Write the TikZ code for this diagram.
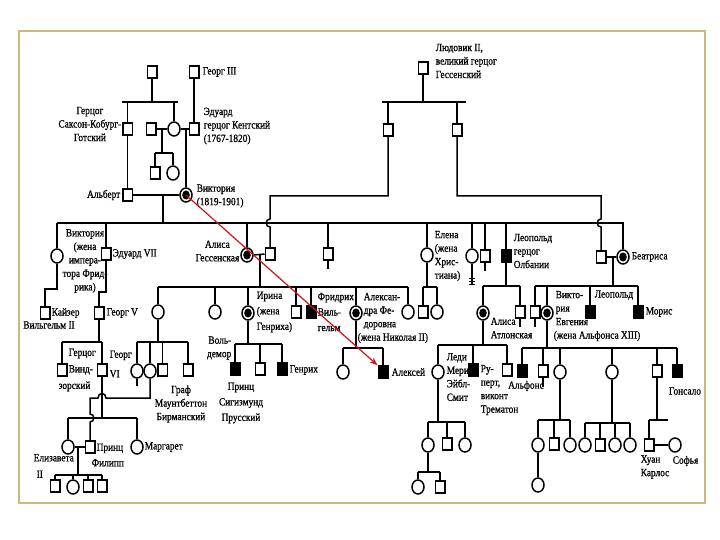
\documentclass[tikz,border=0pt]{standalone}
\usepackage{fontspec}
\setmainfont{Liberation Serif}[FakeStretch=0.85,FakeBold=0.8]
\usetikzlibrary{shapes.geometric,arrows.meta}
\definecolor{framecol}{RGB}{205,185,125}
\definecolor{arrowred}{RGB}{205,20,20}
\begin{document}
\begin{tikzpicture}[x=1pt,y=-1pt,line width=1.5pt,
  sq/.style={rectangle,draw,fill=white,minimum width=9.5pt,minimum height=12pt,inner sep=0pt},
  fsq/.style={sq,fill=black},
  ci/.style={ellipse,draw,fill=white,minimum width=12pt,minimum height=14pt,inner sep=0pt},
  ca/.style={ci,path picture={\fill[black] (path picture bounding box.center) ellipse (3.8pt and 4.6pt);}},
  lb/.style={inner sep=0pt,font=\fontsize{11}{13.5}\selectfont,align=left},
  lc/.style={lb,align=center},
  lr/.style={lb,align=right},
  redarrow/.style={draw=arrowred,line width=1.2pt,-{Stealth[length=8pt,width=6pt]}}]
\useasboundingbox (0,0) rectangle (720,540);
\draw[framecol,line width=1.3pt] (19,31) rectangle (705,503);

% ---------- generation 0/1 (top left) ----------
\node[sq] (g1) at (152,72) {};
\node[sq] (g3) at (194,72) {};
\node[lb,anchor=west] (g3l) at (202,72) {Георг III};
\node[sq] (gz) at (127.5,129) {};
\node[lc,anchor=east] (gzl) at (122,124) {Герцог\\Саксон-Кобург-\\Готский};
\node[sq] (s151) at (151,129) {};
\node[ci] (vsc) at (174,129) {};
\node[sq] (ed) at (194,129) {};
\node[lb,anchor=west] (edl) at (203,126) {Эдуард\\герцог Кентский\\(1767-1820)};
\node[sq] (c1) at (155,173) {};
\node[ci] (c2) at (173,173) {};
\node[sq] (alb) at (127.5,195) {};
\node[lb,anchor=east] (albl) at (121,195) {Альберт};
\node[ca] (vic) at (186,195) {};
\node[lb,anchor=west] (vicl) at (196,196) {Виктория\\(1819-1901)};

% Ludwig II
\node[sq] (lud) at (423,68) {};
\node[lb,anchor=west] (ludl) at (435,61) {Людовик II,\\великий герцог\\Гессенский};
\node[sq] (l1) at (388,130) {};
\node[sq] (l2) at (457,130) {};

% ---------- Victoria's children ----------
\node[ci] (vpr) at (57,256) {};
\node[lc] (vprl) at (85,261) {Виктория\\(жена\\импера-\\тора Фрид-\\рика)};
\node[sq] (e7) at (106,254) {};
\node[lb,anchor=west] (e7l) at (112,254) {Эдуард VII};
\node[ca] (al) at (247,255) {};
\node[lc,anchor=east] (all) at (240,251) {Алиса\\Гессенская};
\node[sq] (lw) at (270,254) {};
\node[sq] (alf) at (328,254) {};
\node[ci] (hel) at (427,255) {};
\node[lb,anchor=west] (hell) at (434,256) {Елена\\(жена\\Хрис-\\тиана)};
\node[ci] (lou) at (472,256) {};
\node[sq] (art) at (485,256) {};
\node[fsq] (leo) at (506,256) {};
\node[lb,anchor=west] (leol) at (513,251) {Леопольд\\герцог\\Олбании};
\node[sq] (hb) at (601,257) {};
\node[ca] (bea) at (623,257) {};
\node[lb,anchor=west] (beal) at (631,257) {Беатриса};

% ---------- grandchildren ----------
\node[sq] (ks) at (45,313) {};
\node[lb,anchor=west] (ksl) at (51,313) {Кайзер};
\node[lc] (ksl2) at (49,325) {Вильгельм II};
\node[sq] (g5) at (99,313) {};
\node[lb,anchor=west] (g5l) at (106,313) {Георг V};

\node[ci] (vh) at (158,312) {};
\node[ci] (el) at (215,312) {};
\node[ca] (ir) at (248,313) {};
\node[lb,anchor=west] (irl) at (256,312) {Ирина\\[2pt](жена\\[2pt]Генриха)};
\node[sq] (er) at (296,312) {};
\node[fsq] (fr) at (311,312) {};
\node[lb,anchor=west] (frl) at (317,312) {Фридрих\\[2pt]Виль-\\[2pt]гельм};
\node[ca] (ax) at (356,313) {};
\node[lb,anchor=west] (axl) at (363,318) {Алексан-\\дра Фе-\\доровна\\\hspace*{-6pt}(жена Николая II)};
\node[ci] (ma) at (408,312) {};

\node[sq] (h1) at (423,312) {};
\node[ci] (h2) at (437,312) {};

\node[ca] (ath) at (483,313) {};
\node[lb,anchor=west] (athl) at (490,328) {Алиса\\Атлонская};
\node[sq] (lc2) at (520,312) {};

\node[sq] (b1) at (535,312) {};
\node[ca] (ve) at (547,313) {};
\node[lb,anchor=west] (vel) at (555,316) {Викто-\\рия\\Евгения\\\hspace*{-2pt}(жена Альфонса XIII)};
\node[fsq] (bl) at (590,312) {};
\node[lb,anchor=west] (bll) at (594,295) {Леопольд};
\node[fsq] (mo) at (638,312) {};
\node[lb,anchor=west] (mol) at (645,312) {Морис};

% ---------- great-grandchildren ----------
\node[sq] (wi) at (62,370) {};
\node[lb,anchor=west] (wil) at (68,370) {Герцог\\[3pt]Винд-\\[3pt]\hspace*{-10pt}зорский};
\node[sq] (g6) at (102,370) {};
\node[lb,anchor=west] (g6l) at (109,364) {Георг\\[6pt]VI};

\node[ci] (v1) at (137,371) {};
\node[ci] (ab) at (150,371) {};
\node[sq] (v3) at (162.5,370) {};
\node[sq] (mb) at (188,370) {};
\node[lc] (mbl) at (181,404) {Граф\\Маунтбеттон\\Бирманский};

\node[fsq] (wa) at (235,369) {};
\node[lr,anchor=east] (wal) at (232,348) {Воль-\\демор};
\node[sq] (si) at (260,369) {};
\node[lc] (sil) at (241,403) {Принц\\[2pt]Сигизмунд\\[2pt]Прусский};
\node[fsq] (he) at (282,369) {};
\node[lb,anchor=west] (hel2) at (289,370) {Генрих};

\node[ci] (ol) at (343,372) {};
\node[fsq] (axi) at (383,372) {};
\node[lb,anchor=west] (axil) at (391,372) {Алексей};

\node[ci] (my) at (438,372) {};
\node[lb,anchor=west] (myl) at (446,377) {Леди\\Мери\\Эйбл-\\Смит};
\node[fsq] (ru) at (473,370) {};
\node[lb,anchor=west] (rul) at (480,390) {Ру-\\перт,\\виконт\\Трематон};
\node[sq] (mr) at (507,370) {};

\node[fsq] (ap) at (522,371) {};
\node[lc] (apl) at (526,386) {Альфонс};
\node[sq] (ja) at (543,371) {};
\node[ci] (bz) at (560,372) {};
\node[ci] (mc) at (612,372) {};
\node[sq] (jn) at (657,371) {};
\node[fsq] (go) at (677,371) {};
\node[lc] (gol) at (685,391) {Гонсало};

% ---------- lower generations ----------
\node[ci] (e2) at (68,447) {};
\node[lb,anchor=west] (e2l) at (33,466) {Елизавета\\[3pt]\hspace*{3pt}II};
\node[sq] (ph) at (90,447) {};
\node[lb,anchor=west] (phl) at (91,455) {\hspace*{5pt}Принц\\[2pt]Филипп};
\node[ci] (mg) at (137,447) {};
\node[lb,anchor=west] (mgl) at (144,447) {Маргарет};
\node[sq] (k1) at (55,486) {};
\node[ci] (k2) at (73,487) {};
\node[sq] (k3) at (88,486) {};
\node[sq] (k4) at (102,486) {};

\node[ci] (m1) at (428,445) {};
\node[sq] (m2) at (447,444) {};
\node[ci] (m3) at (465,445) {};
\node[ci] (mm1) at (418,487) {};
\node[sq] (mm2) at (440,487) {};

\node[ci] (bb1) at (538,445) {};
\node[sq] (bb2) at (554,444) {};
\node[ci] (bb3) at (570,445) {};
\node[ci] (bb4) at (538,485) {};

\node[ci] (cc1) at (585,445) {};
\node[sq] (cc2) at (600,445) {};
\node[ci] (cc3) at (615,445) {};
\node[ci] (cc4) at (630,445) {};

\node[sq] (jc) at (649,445) {};
\node[ci] (so) at (675,445) {};
\node[lb,anchor=west] (jcl) at (640,467) {Хуан\\Карлос};
\node[lb,anchor=west] (sol) at (672,461) {Софья};

% ================= connectors =================
% top left
\draw (g1.south) -- (152,102);
\draw (122,102) -- (178,102);
\draw (127.5,102) -- (gz.north);
\draw (174,102) -- (vsc.north);
\draw (g3.south) -- (ed.north);
\draw (s151.east) -- (vsc.west);
\draw (vsc.east) -- (ed.west);
\draw (162,129) -- (162,153);
\draw (155,153) -- (173,153);
\draw (155,153) -- (c1.north);
\draw (173,153) -- (c2.north);
\draw (186,129) -- (vic.north);
\draw (gz.south) -- (alb.north);
\draw (alb.east) -- (vic.west);
\draw (163,195) -- (163,223);

% Ludwig II
\draw (lud.south) -- (423,102);
\draw (382,102) -- (466,102);
\draw (388,102) -- (l1.north);
\draw (457,102) -- (l2.north);
\draw (l1.south) -- (388,196) -- (270,196) -- (270,219)
   .. controls (265,219) and (265,227) .. (270,227) -- (lw.north);
\draw (l2.south) -- (457,196) -- (601,196) -- (601,219)
   .. controls (596,219) and (596,227) .. (601,227) -- (hb.north);

% main sibling bar
\draw (57,223) -- (624,223);
\draw (57,223) -- (vpr.north);
\draw (106,223) -- (e7.north);
\draw (247,223) -- (al.north);
\draw (328,223) -- (alf.north);
\draw (427,223) -- (hel.north);
\draw (472,223) -- (lou.north);
\draw (485,223) -- (art.north);
\draw (506,223) -- (leo.north);
\draw (623,223) -- (bea.north);
\draw (alf.south) -- ++(0,8);
\draw (art.south) -- ++(0,8);
\draw (lou.south) -- (472,284);
\draw[line width=0.9pt] (469,278) -- (475,278) (469,281) -- (475,281) (469,284) -- (475,284);

% Victoria (Princess Royal), Edward VII
\draw (vpr.south) -- (57,289) -- (45,289) -- (ks.north);
\draw (e7.south) -- (106,292) -- (99,292) -- (g5.north);
\draw (g5.south) -- (99,342);
\draw (62,342) -- (102,342);
\draw (62,342) -- (wi.north);
\draw (102,342) -- (g6.north);

% Alice of Hesse
\draw (al.east) -- (lw.west);
\draw (260,255) -- (260,287);
\draw (158,287) -- (408,287);
\foreach \n/\x in {vh/158,el/215,ir/248,er/296,fr/311,ax/356,ma/408}
  \draw (\x,287) -- (\n.north);

% Helena
\draw (hel.south) -- (427,287);
\draw (423,287) -- (437,287);
\draw (423,287) -- (h1.north);
\draw (437,287) -- (h2.north);

% Leopold
\draw (leo.south) -- (506,286);
\draw (483,286) -- (520,286);
\draw (483,286) -- (ath.north);
\draw (520,286) -- (lc2.north);
\draw (lc2.south) -- ++(0,8);

% Beatrice
\draw (hb.east) -- (bea.west);
\draw (613,257) -- (613,286);
\draw (535,286) -- (638,286);
\foreach \n/\x in {b1/535,ve/547,bl/590,mo/638}
  \draw (\x,286) -- (\n.north);
\draw (b1.south) -- ++(0,8);

% Victoria of Hesse
\draw (vh.south) -- (158,342);
\draw (137,342) -- (188,342);
\foreach \n/\x in {v1/137,ab/150,v3/162.5,mb/188}
  \draw (\x,342) -- (\n.north);
\draw (v1.south) -- ++(0,7);

% Irina
\draw (ir.south) -- (248,344);
\draw (235,344) -- (282,344);
\foreach \n/\x in {wa/235,si/260,he/282}
  \draw (\x,344) -- (\n.north);

% Alexandra
\draw (ax.south) -- (356,348);
\draw (343,348) -- (383,348);
\draw (343,348) -- (ol.north);
\draw (383,348) -- (axi.north);

% George VI and Philip
\draw (g6.south) -- (102,418);
\draw (68,418) -- (137,418);
\draw (68,418) -- (e2.north);
\draw (137,418) -- (mg.north);
\draw (ab.south) -- (150,398) -- (106,398) .. controls (106,392) and (98,392) .. (98,398)
   -- (90,398) -- (90,414) .. controls (95,414) and (95,422) .. (90,422) -- (ph.north);
\draw (e2.east) -- (ph.west);
\draw (78,447) -- (78,475);
\draw (55,475) -- (102,475);
\foreach \n/\x in {k1/55,k2/73,k3/88,k4/102}
  \draw (\x,475) -- (\n.north);

% Alice of Athlone
\draw (ath.south) -- (483,345);
\draw (438,345) -- (507,345);
\foreach \n/\x in {my/438,ru/473,mr/507}
  \draw (\x,345) -- (\n.north);
\draw (my.south) -- (438,422);
\draw (428,422) -- (465,422);
\foreach \n/\x in {m1/428,m2/447,m3/465}
  \draw (\x,422) -- (\n.north);
\draw (m1.south) -- (428,472);
\draw (418,472) -- (440,472);
\draw (418,472) -- (mm1.north);
\draw (440,472) -- (mm2.north);

% Victoria Eugenia
\draw (ve.south) -- (547,348);
\draw (522,348) -- (677,348);
\foreach \n/\x in {ap/522,ja/543,bz/560,mc/612,jn/657,go/677}
  \draw (\x,348) -- (\n.north);
\draw (ja.south) -- ++(0,9);
\draw (bz.south) -- (560,420);
\draw (538,420) -- (570,420);
\foreach \n/\x in {bb1/538,bb2/554,bb3/570}
  \draw (\x,420) -- (\n.north);
\draw (bb1.south) -- (bb4.north);
\draw (mc.south) -- (612,423);
\draw (585,423) -- (630,423);
\foreach \n/\x in {cc1/585,cc2/600,cc3/615,cc4/630}
  \draw (\x,423) -- (\n.north);
\draw (jn.south) -- (657,420);
\draw (649,420) -- (668,420);
\draw (649,420) -- (jc.north);
\draw (jc.east) -- (so.west);

% red arrow
\draw[redarrow] (vic.center) -- (axi.north west);
\end{tikzpicture}
\end{document}
